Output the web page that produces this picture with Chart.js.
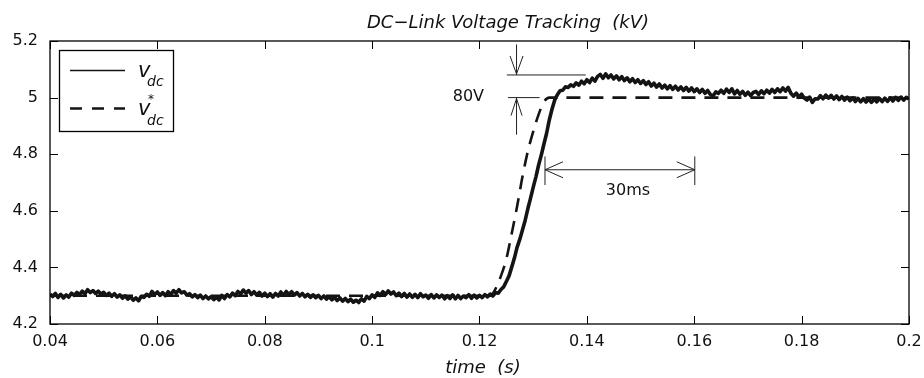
<!DOCTYPE html>
<html>
<head>
<meta charset="utf-8">
<script src="https://cdn.jsdelivr.net/npm/chart.js@4.4.1/dist/chart.umd.min.js"></script>
<style>
  html, body { margin: 0; padding: 0; background: #fff; }
  #c { display: block; }
</style>
</head>
<body>
<canvas id="c" width="924" height="378"></canvas>
<script>
// ---- Data ----
const chartTitle = 'DC\u2212Link Voltage Tracking  (kV)';
const xAxisTitle = 'time  (s)';
const xTickValues = [0.04, 0.06, 0.08, 0.1, 0.12, 0.14, 0.16, 0.18, 0.2];
const yTickValues = [4.2, 4.4, 4.6, 4.8, 5, 5.2];

// measured DC-link voltage v_dc (kV)
const vdcTime = [
  0.0400,0.0405,0.0410,0.0415,0.0420,0.0425,0.0430,0.0435,0.0440,0.0445,0.0450,0.0455,0.0460,0.0465,0.0470,0.0475,0.0480,0.0485,0.0490,0.0495,
  0.0500,0.0505,0.0510,0.0515,0.0520,0.0525,0.0530,0.0535,0.0540,0.0545,0.0550,0.0555,0.0560,0.0565,0.0570,0.0575,0.0580,0.0585,0.0590,0.0595,
  0.0600,0.0605,0.0610,0.0615,0.0620,0.0625,0.0630,0.0635,0.0640,0.0645,0.0650,0.0655,0.0660,0.0665,0.0670,0.0675,0.0680,0.0685,0.0690,0.0695,
  0.0700,0.0705,0.0710,0.0715,0.0720,0.0725,0.0730,0.0735,0.0740,0.0745,0.0750,0.0755,0.0760,0.0765,0.0770,0.0775,0.0780,0.0785,0.0790,0.0795,
  0.0800,0.0805,0.0810,0.0815,0.0820,0.0825,0.0830,0.0835,0.0840,0.0845,0.0850,0.0855,0.0860,0.0865,0.0870,0.0875,0.0880,0.0885,0.0890,0.0895,
  0.0900,0.0905,0.0910,0.0915,0.0920,0.0925,0.0930,0.0935,0.0940,0.0945,0.0950,0.0955,0.0960,0.0965,0.0970,0.0975,0.0980,0.0985,0.0990,0.0995,
  0.1000,0.1005,0.1010,0.1015,0.1020,0.1025,0.1030,0.1035,0.1040,0.1045,0.1050,0.1055,0.1060,0.1065,0.1070,0.1075,0.1080,0.1085,0.1090,0.1095,
  0.1100,0.1105,0.1110,0.1115,0.1120,0.1125,0.1130,0.1135,0.1140,0.1145,0.1150,0.1155,0.1160,0.1165,0.1170,0.1175,0.1180,0.1185,0.1190,0.1195,
  0.1200,0.1205,0.1210,0.1215,0.1220,0.1225,0.1230,0.1235,0.1240,0.1245,0.1250,0.1255,0.1260,0.1265,0.1270,0.1275,0.1280,0.1285,0.1290,0.1295,
  0.1300,0.1305,0.1310,0.1315,0.1320,0.1325,0.1330,0.1335,0.1340,0.1345,0.1350,0.1355,0.1360,0.1365,0.1370,0.1375,0.1380,0.1385,0.1390,0.1395,
  0.1400,0.1405,0.1410,0.1415,0.1420,0.1425,0.1430,0.1435,0.1440,0.1445,0.1450,0.1455,0.1460,0.1465,0.1470,0.1475,0.1480,0.1485,0.1490,0.1495,
  0.1500,0.1505,0.1510,0.1515,0.1520,0.1525,0.1530,0.1535,0.1540,0.1545,0.1550,0.1555,0.1560,0.1565,0.1570,0.1575,0.1580,0.1585,0.1590,0.1595,
  0.1600,0.1605,0.1610,0.1615,0.1620,0.1625,0.1630,0.1635,0.1640,0.1645,0.1650,0.1655,0.1660,0.1665,0.1670,0.1675,0.1680,0.1685,0.1690,0.1695,
  0.1700,0.1705,0.1710,0.1715,0.1720,0.1725,0.1730,0.1735,0.1740,0.1745,0.1750,0.1755,0.1760,0.1765,0.1770,0.1775,0.1780,0.1785,0.1790,0.1795,
  0.1800,0.1805,0.1810,0.1815,0.1820,0.1825,0.1830,0.1835,0.1840,0.1845,0.1850,0.1855,0.1860,0.1865,0.1870,0.1875,0.1880,0.1885,0.1890,0.1895,
  0.1900,0.1905,0.1910,0.1915,0.1920,0.1925,0.1930,0.1935,0.1940,0.1945,0.1950,0.1955,0.1960,0.1965,0.1970,0.1975,0.1980,0.1985,0.1990,0.1995,
  0.2000
];
const vdcValues = [
  4.306,4.297,4.308,4.294,4.305,4.292,4.303,4.295,4.309,4.301,4.312,4.304,4.316,4.307,4.321,4.311,4.318,4.308,4.316,4.305,
  4.312,4.301,4.309,4.298,4.307,4.295,4.303,4.291,4.299,4.288,4.296,4.284,4.292,4.282,4.298,4.294,4.305,4.298,4.315,4.304,
  4.313,4.301,4.311,4.300,4.314,4.304,4.318,4.309,4.321,4.310,4.314,4.302,4.307,4.296,4.304,4.293,4.302,4.290,4.299,4.289,
  4.297,4.286,4.295,4.285,4.301,4.290,4.304,4.296,4.309,4.300,4.315,4.306,4.320,4.309,4.318,4.304,4.314,4.302,4.312,4.299,
  4.309,4.297,4.307,4.295,4.308,4.299,4.313,4.301,4.315,4.304,4.314,4.302,4.311,4.299,4.308,4.296,4.305,4.294,4.303,4.293,
  4.301,4.290,4.299,4.288,4.297,4.285,4.295,4.283,4.292,4.281,4.290,4.279,4.288,4.277,4.284,4.276,4.289,4.281,4.298,4.290,
  4.303,4.294,4.310,4.301,4.314,4.304,4.317,4.306,4.313,4.300,4.309,4.297,4.308,4.295,4.306,4.294,4.305,4.293,4.307,4.296,
  4.302,4.291,4.304,4.292,4.303,4.294,4.302,4.289,4.300,4.290,4.303,4.289,4.301,4.290,4.299,4.293,4.304,4.291,4.302,4.292,
  4.301,4.293,4.304,4.296,4.306,4.299,4.311,4.309,4.322,4.331,4.350,4.370,4.401,4.433,4.471,4.499,4.532,4.566,4.607,4.644,
  4.683,4.719,4.761,4.796,4.836,4.874,4.921,4.959,4.991,5.010,5.024,5.026,5.038,5.036,5.045,5.040,5.052,5.044,5.058,5.049,
  5.063,5.053,5.069,5.058,5.075,5.082,5.068,5.084,5.070,5.080,5.066,5.077,5.063,5.074,5.060,5.070,5.056,5.067,5.053,5.063,
  5.050,5.060,5.046,5.056,5.041,5.051,5.037,5.048,5.034,5.044,5.031,5.042,5.029,5.040,5.027,5.038,5.025,5.036,5.023,5.034,
  5.021,5.031,5.018,5.029,5.015,5.025,5.011,5.006,5.020,5.015,5.026,5.015,5.030,5.018,5.031,5.013,5.025,5.012,5.022,5.008,
  5.019,5.007,5.018,5.022,5.011,5.024,5.014,5.026,5.016,5.029,5.018,5.031,5.021,5.034,5.023,5.036,5.015,5.005,5.016,5.001,
  5.012,4.998,4.991,5.002,4.983,4.996,4.995,5.007,4.996,5.009,4.998,5.008,4.995,5.006,4.993,5.004,4.991,5.002,4.989,4.999,
  4.986,4.997,4.985,4.996,4.984,4.995,4.983,4.994,4.985,4.997,4.986,4.998,4.987,4.999,4.988,5.001,4.990,5.002,4.991,5.001,
  4.995
];

// reference v*_dc (kV)
const refTime   = [0.04, 0.122, 0.123, 0.124, 0.125, 0.126, 0.127, 0.128, 0.129, 0.130, 0.131, 0.132, 0.133, 0.2];
const refValues = [4.30, 4.300, 4.325, 4.370, 4.430, 4.520, 4.615, 4.720, 4.810, 4.880, 4.940, 4.985, 5.000, 5.0];

// ---- Chart ----
const FONT = '"DejaVu Sans", "Liberation Sans", Arial, sans-serif';
const INK = '#141414';

function arrowHead(ctx, tx, ty, dx, dy, len, half) {
  const n = Math.hypot(dx, dy); dx /= n; dy /= n;
  const bx = tx - dx * len, by = ty - dy * len;
  ctx.beginPath();
  ctx.moveTo(bx - dy * half, by + dx * half);
  ctx.lineTo(tx, ty);
  ctx.lineTo(bx + dy * half, by - dx * half);
  ctx.stroke();
}

const overlay = {
  id: 'overlay',
  afterDatasetsDraw(chart) {
    const { ctx, chartArea: a, scales: { x, y } } = chart;
    ctx.save();
    ctx.strokeStyle = '#000';
    ctx.lineWidth = 1.3;
    ctx.strokeRect(a.left, a.top, a.right - a.left, a.bottom - a.top);
    ctx.lineWidth = 1;
    ctx.beginPath();
    x.ticks.forEach(t => {
      const px = Math.round(x.getPixelForValue(t.value)) + 0.5;
      ctx.moveTo(px, a.bottom); ctx.lineTo(px, a.bottom - 8);
      ctx.moveTo(px, a.top); ctx.lineTo(px, a.top + 8);
    });
    y.ticks.forEach(t => {
      const py = Math.round(y.getPixelForValue(t.value)) + 0.5;
      ctx.moveTo(a.left, py); ctx.lineTo(a.left + 8, py);
      ctx.moveTo(a.right, py); ctx.lineTo(a.right - 8, py);
    });
    ctx.stroke();

    ctx.fillStyle = '#111';
    ctx.textAlign = 'center';
    ctx.textBaseline = 'alphabetic';
    ctx.font = 'italic 18px ' + FONT;
    ctx.fillText(chartTitle, 508, 28);
    ctx.fillText(xAxisTitle, 483, 373);

    // ---- annotations ----
    ctx.strokeStyle = '#222';
    ctx.lineWidth = 1;
    const X = v => x.getPixelForValue(v), Y = v => y.getPixelForValue(v);
    ctx.beginPath();
    ctx.moveTo(X(0.1251), Y(5.08)); ctx.lineTo(X(0.1398), Y(5.08));
    ctx.moveTo(X(0.1253), Y(5.0)); ctx.lineTo(X(0.1312), Y(5.0));
    ctx.stroke();
    const ax = X(0.1269);
    ctx.beginPath();
    ctx.moveTo(ax, Y(5.188)); ctx.lineTo(ax, Y(5.08));
    ctx.moveTo(ax, Y(5.0)); ctx.lineTo(ax, Y(4.869));
    ctx.stroke();
    arrowHead(ctx, ax, Y(5.08) - 1, 0, 1, 18, 6.5);
    arrowHead(ctx, ax, Y(5.0) + 1, 0, -1, 17, 5.5);
    ctx.font = '16px ' + FONT;
    ctx.textAlign = 'right';
    ctx.textBaseline = 'middle';
    ctx.fillText('80V', 484, Y(5.0) - 1);

    const yA = Y(4.745), x1 = X(0.1322), x2 = X(0.1601);
    ctx.beginPath();
    ctx.moveTo(x1, yA); ctx.lineTo(x2, yA);
    ctx.moveTo(x1, Y(4.792)); ctx.lineTo(x1, Y(4.691));
    ctx.moveTo(x2, Y(4.792)); ctx.lineTo(x2, Y(4.691));
    ctx.stroke();
    arrowHead(ctx, x1, yA, -1, 0, 18, 8);
    arrowHead(ctx, x2, yA, 1, 0, 18, 8);
    ctx.textAlign = 'center';
    ctx.fillText('30ms', 628, 191);

    // ---- legend ----
    ctx.fillStyle = '#fff';
    ctx.fillRect(59.5, 50.5, 114, 81);
    ctx.strokeStyle = '#000';
    ctx.lineWidth = 1.3;
    ctx.strokeRect(59.5, 50.5, 114, 81);
    ctx.strokeStyle = INK;
    ctx.lineWidth = 1.3;
    ctx.beginPath(); ctx.moveTo(70, 70.5); ctx.lineTo(125, 70.5); ctx.stroke();
    ctx.lineWidth = 2.6;
    ctx.setLineDash([12, 10]);
    ctx.beginPath(); ctx.moveTo(70, 108.5); ctx.lineTo(125, 108.5); ctx.stroke();
    ctx.setLineDash([]);
    ctx.fillStyle = '#111';
    ctx.textAlign = 'left';
    ctx.textBaseline = 'alphabetic';
    ctx.font = 'italic 21px ' + FONT;
    ctx.fillText('v', 138, 77);
    ctx.fillText('v', 138, 115);
    ctx.font = 'italic 14px ' + FONT;
    ctx.fillText('dc', 147, 86);
    ctx.fillText('dc', 147, 125);
    ctx.font = '12px ' + FONT;
    ctx.fillText('*', 148, 103);
    ctx.restore();
  }
};

new Chart(document.getElementById('c'), {
  type: 'line',
  data: {
    datasets: [
      {
        label: 'v_dc',
        data: vdcTime.map((t, i) => ({ x: t, y: vdcValues[i] })),
        borderColor: INK,
        borderWidth: 3.6,
        pointRadius: 0,
        tension: 0,
        borderJoinStyle: 'round'
      },
      {
        label: 'v*_dc',
        data: refTime.map((t, i) => ({ x: t, y: refValues[i] })),
        borderColor: INK,
        borderWidth: 2.6,
        borderDash: [14, 9],
        pointRadius: 0,
        cubicInterpolationMode: 'monotone'
      }
    ]
  },
  options: {
    responsive: false,
    animation: false,
    devicePixelRatio: 1,
    layout: { padding: { top: 41, right: 15, left: 0, bottom: 0 } },
    plugins: { legend: { display: false }, tooltip: { enabled: false }, title: { display: false } },
    scales: {
      x: {
        type: 'linear',
        min: 0.04, max: 0.2,
        afterBuildTicks: s => { s.ticks = xTickValues.map(v => ({ value: v })); },
        afterFit: s => { s.height = 54; s.paddingLeft = 0; s.paddingRight = 0; },
        ticks: {
          autoSkip: false, maxRotation: 0, padding: 8,
          color: '#111', font: { family: FONT, size: 16 },
          callback: v => String(+(+v).toFixed(2))
        },
        grid: { display: false, drawTicks: false },
        border: { display: false }
      },
      y: {
        type: 'linear',
        min: 4.2, max: 5.2,
        afterBuildTicks: s => { s.ticks = yTickValues.map(v => ({ value: v })); },
        afterFit: s => { s.width = 50; s.paddingTop = 0; s.paddingBottom = 0; },
        ticks: {
          padding: 12,
          color: '#111', font: { family: FONT, size: 16 },
          callback: v => String(+(+v).toFixed(1))
        },
        grid: { display: false, drawTicks: false },
        border: { display: false }
      }
    }
  },
  plugins: [overlay]
});
</script>
</body>
</html>
